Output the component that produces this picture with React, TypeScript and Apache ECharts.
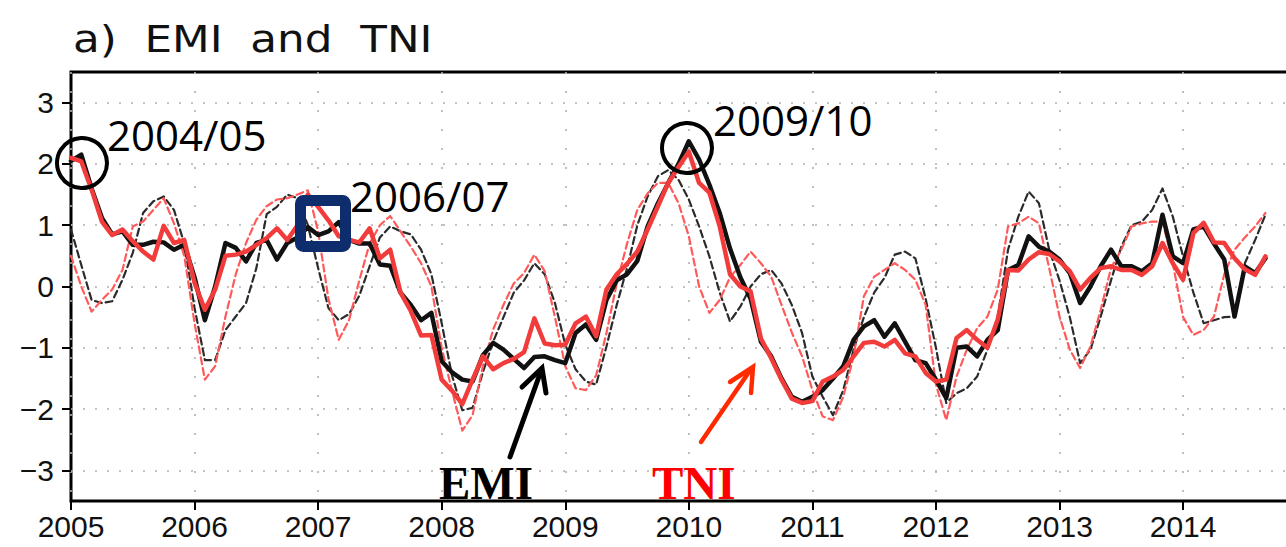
import { useEffect, useRef } from "react";
import * as echarts from "echarts";

// Monthly series, January 2005 onwards
const START_YEAR = 2005;
const X_MAX = 2014.93;
const yearTicks = [2005, 2006, 2007, 2008, 2009, 2010, 2011, 2012, 2013, 2014];
const valueTicks = [-3, -2, -1, 0, 1, 2, 3];

// EMI (thick black line)
const emi = [
  2.05, 2.15, 1.6, 1.12, 0.85, 0.9, 0.68, 0.68, 0.73, 0.72, 0.6, 0.68,
  0.15, -0.55, 0.0, 0.71, 0.63, 0.41, 0.71, 0.76, 0.44, 0.71, 0.8, 0.97,
  0.84, 0.9, 1.05, 0.76, 0.7, 0.7, 0.36, 0.34, -0.1, -0.3, -0.55, -0.43,
  -1.22, -1.4, -1.52, -1.55, -1.12, -0.92, -1.03, -1.18, -1.33, -1.15, -1.14, -1.2,
  -1.25, -0.76, -0.62, -0.87, -0.22, 0.1, 0.2, 0.42, 0.98, 1.36, 1.69, 2.0,
  2.37, 2.07, 1.66, 1.2, 0.62, 0.15, -0.2, -0.9, -1.14, -1.5, -1.8, -1.88,
  -1.8, -1.69, -1.5, -1.3, -0.87, -0.65, -0.55, -0.82, -0.6, -0.9, -1.2, -1.25,
  -1.52, -1.82, -1.0, -0.98, -1.14, -0.87, -0.71, 0.27, 0.35, 0.82, 0.65, 0.57,
  0.44, 0.22, -0.27, 0.0, 0.33, 0.6, 0.33, 0.33, 0.25, 0.38, 1.17, 0.49,
  0.38, 0.93, 0.98, 0.7, 0.44, -0.49, 0.33, 0.22, 0.46,
];

// TNI (thick red line)
const tni = [
  2.1, 2.04, 1.58, 1.06, 0.84, 0.93, 0.74, 0.57, 0.44, 0.99, 0.71, 0.76,
  0.06, -0.38, -0.05, 0.5, 0.52, 0.57, 0.68, 0.79, 0.95, 0.76, 1.0, 1.5,
  1.3, 1.08, 0.82, 0.76, 0.72, 0.95, 0.46, 0.6, -0.1, -0.4, -0.8, -0.79,
  -1.52, -1.7, -1.92, -1.52, -1.14, -1.35, -1.25, -1.18, -1.07, -0.52, -0.93, -0.96,
  -0.95, -0.6, -0.49, -0.81, -0.05, 0.2, 0.37, 0.57, 0.93, 1.31, 1.69, 1.95,
  2.2, 1.69, 1.53, 0.98, 0.2, 0.0, -0.08, -0.85, -1.17, -1.52, -1.83, -1.9,
  -1.87, -1.55, -1.47, -1.36, -1.14, -0.92, -0.9, -0.98, -0.87, -1.09, -1.14, -1.41,
  -1.55, -1.52, -0.84, -0.71, -0.87, -1.0, -0.54, 0.27, 0.26, 0.44, 0.56, 0.53,
  0.41, 0.25, -0.05, 0.14, 0.3, 0.33, 0.27, 0.27, 0.19, 0.33, 0.71, 0.38,
  0.11, 0.87, 1.04, 0.72, 0.71, 0.46, 0.28, 0.19, 0.49,
];

// Thin dashed black line
const emiDashed = [
  0.93, 0.35, -0.22, -0.27, -0.24, 0.11, 0.55, 1.2, 1.39, 1.47, 1.25, 0.7,
  -0.35, -1.2, -1.2, -0.71, -0.49, -0.27, 0.3, 1.18, 1.3, 1.5, 1.44, 1.0,
  0.3, -0.35, -0.55, -0.45, -0.15, 0.33, 0.8, 0.98, 0.9, 0.85, 0.6, 0.2,
  -0.6, -1.45, -2.02, -1.98, -1.4, -0.9, -0.5, -0.1, 0.1, 0.38, 0.2, -0.27,
  -0.95, -1.35, -1.55, -1.6, -0.98, -0.3, 0.3, 1.0, 1.47, 1.8, 1.9, 1.74,
  1.42, 0.98, 0.49, -0.1, -0.57, -0.33, 0.0, 0.2, 0.27, 0.05, -0.3, -0.76,
  -1.47, -1.8, -2.1, -1.69, -1.03, -0.5, -0.1, 0.14, 0.52, 0.57, 0.46, -0.2,
  -1.0, -1.9, -1.74, -1.66, -1.47, -1.03, -0.49, 0.6, 1.14, 1.55, 1.36, 0.6,
  0.1, -0.5, -1.25, -1.03, -0.49, 0.1, 0.65, 1.0, 1.06, 1.25, 1.6, 1.14,
  0.49, -0.1, -0.6, -0.55, -0.5, -0.49, 0.38, 0.76, 1.17,
];

// Thin dashed red line
const tniDashed = [
  0.5, 0.0, -0.41, -0.22, -0.05, 0.27, 0.98, 1.06, 1.25, 1.44, 1.03, 0.5,
  -0.6, -1.52, -1.3, -0.49, 0.2, 0.71, 1.09, 1.31, 1.42, 1.44, 1.5, 1.57,
  0.9, -0.2, -0.87, -0.55, 0.1, 0.7, 1.0, 1.15, 0.9, 0.65, 0.38, 0.0,
  -1.0, -1.7, -2.35, -2.1, -1.3, -0.7, -0.3, 0.05, 0.22, 0.52, 0.25, -0.5,
  -1.3, -1.66, -1.69, -1.45, -0.76, 0.05, 0.7, 1.25, 1.52, 1.69, 1.69, 1.36,
  0.82, 0.0, -0.43, -0.22, 0.15, 0.35, 0.57, 0.38, 0.16, -0.3, -0.75, -1.14,
  -1.69, -2.12, -2.18, -1.8, -1.14, -0.16, 0.16, 0.27, 0.38, 0.27, 0.11, -0.3,
  -1.6, -2.18, -1.47, -1.03, -0.68, -0.49, -0.05, 0.98, 1.03, 1.14, 1.03, 0.3,
  -0.49, -1.03, -1.33, -0.98, -0.38, 0.3, 0.6, 0.98, 1.03, 1.06, 1.06, 0.38,
  -0.5, -0.79, -0.71, -0.49, 0.2, 0.6, 0.8, 0.98, 1.2,
];

const toPairs = (vals: number[]) => vals.map((v, i) => [START_YEAR + i / 12, v]);

const fmtValue = (v: number) => {
  if (!Number.isInteger(v)) return "";
  return v < 0 ? "\u2212" + Math.abs(v) : String(v);
};
const fmtYear = (v: number) => (Number.isInteger(v) ? String(v) : "");

const lineSeries = (vals: number[], color: string, width: number, dashed: boolean, z: number) => ({
  type: "line",
  data: toPairs(vals),
  symbol: "none",
  z,
  lineStyle: {
    color,
    width,
    type: dashed ? [7, 4] : "solid",
    join: "round",
    cap: "round",
  },
});

export default function App() {
  const ref = useRef<HTMLDivElement>(null);

  useEffect(() => {
    document.body.style.margin = "0";
    const chart = echarts.init(ref.current!, null, { renderer: "svg" });
    const annoFont = '42px "Open Sans"';
    chart.setOption({
      animation: false,
      backgroundColor: "#ffffff",
      grid: {
        show: true,
        left: 71,
        top: 72,
        right: -12,
        bottom: 46,
        borderColor: "#000000",
        borderWidth: 3,
        backgroundColor: "transparent",
        outerBoundsMode: "none",
      },
      xAxis: {
        type: "value",
        position: "bottom",
        min: START_YEAR,
        max: X_MAX,
        interval: 1,
        axisLine: { show: false, onZero: false },
        axisTick: {
          show: true,
          length: 9,
          customValues: yearTicks,
          lineStyle: { color: "#000", width: 2 },
        },
        axisLabel: {
          show: true,
          customValues: yearTicks,
          margin: 10,
          fontSize: 30,
          fontFamily: "Liberation Sans",
          color: "#111",
          formatter: fmtYear,
        },
        splitLine: {
          show: true,
          lineStyle: { color: "#b0b0b0", width: 1.6, type: [2, 17] },
        },
      },
      yAxis: {
        type: "value",
        position: "left",
        min: -3.5,
        max: 3.5,
        splitNumber: 7,
        minInterval: 1,
        maxInterval: 1,
        axisLine: { show: false, onZero: false },
        axisTick: {
          show: true,
          length: 9,
          customValues: valueTicks,
          lineStyle: { color: "#000", width: 2 },
        },
        axisLabel: {
          show: true,
          customValues: valueTicks,
          margin: 17,
          fontSize: 30,
          fontFamily: "Liberation Sans",
          color: "#111",
          formatter: fmtValue,
        },
        splitLine: {
          show: true,
          lineStyle: { color: "#b0b0b0", width: 1.6, type: [2, 10] },
        },
      },
      series: [
        lineSeries(emiDashed, "#2b2b2b", 2.2, true, 2),
        lineSeries(tniDashed, "#ff5a5a", 2.2, true, 3),
        lineSeries(emi, "#111111", 4.5, false, 4),
        lineSeries(tni, "#f23b3b", 4.5, false, 5),
      ],
      graphic: [
        {
          type: "text",
          x: 73,
          y: 39,
          scaleX: 1.18,
          z: 100,
          style: {
            text: "a)  EMI  and  TNI",
            font: '37px "DejaVu Sans"',
            fill: "#111",
            align: "left",
            verticalAlign: "middle",
          },
        },
        {
          type: "circle",
          z: 100,
          shape: { cx: 82, cy: 163, r: 25 },
          style: { fill: "none", stroke: "#000", lineWidth: 4 },
        },
        {
          type: "circle",
          z: 100,
          shape: { cx: 687, cy: 148, r: 25 },
          style: { fill: "none", stroke: "#000", lineWidth: 4 },
        },
        {
          type: "rect",
          z: 100,
          shape: { x: 300.5, y: 200.5, width: 45, height: 46, r: 3 },
          style: { fill: "none", stroke: "#0d2d6c", lineWidth: 11 },
        },
        {
          type: "text",
          x: 107,
          y: 134,
          z: 100,
          style: { text: "2004/05", font: annoFont, fill: "#000", align: "left", verticalAlign: "middle" },
        },
        {
          type: "text",
          x: 350,
          y: 195,
          z: 100,
          style: { text: "2006/07", font: annoFont, fill: "#000", align: "left", verticalAlign: "middle" },
        },
        {
          type: "text",
          x: 713,
          y: 119,
          z: 100,
          style: { text: "2009/10", font: annoFont, fill: "#000", align: "left", verticalAlign: "middle" },
        },
        // EMI arrow
        {
          type: "line",
          z: 100,
          shape: { x1: 510, y1: 457, x2: 541, y2: 371 },
          style: { stroke: "#000", lineWidth: 5, lineCap: "round" },
        },
        {
          type: "polyline",
          z: 100,
          shape: { points: [[522, 387], [542, 368], [546, 393]] },
          style: { stroke: "#000", lineWidth: 5, fill: "none", lineJoin: "miter", lineCap: "round" },
        },
        // TNI arrow
        {
          type: "line",
          z: 100,
          shape: { x1: 701, y1: 442, x2: 751, y2: 369 },
          style: { stroke: "#ff2a00", lineWidth: 4.5, lineCap: "round" },
        },
        {
          type: "polyline",
          z: 100,
          shape: { points: [[730, 382], [753, 367], [751, 393]] },
          style: { stroke: "#ff2a00", lineWidth: 4.5, fill: "none", lineJoin: "miter", lineCap: "round" },
        },
        {
          type: "text",
          x: 439,
          y: 483,
          z: 100,
          style: {
            text: "EMI",
            font: 'bold 47px "Liberation Serif"',
            fill: "#000",
            align: "left",
            verticalAlign: "middle",
          },
        },
        {
          type: "text",
          x: 652,
          y: 483,
          z: 100,
          style: {
            text: "TNI",
            font: 'bold 47px "Liberation Serif"',
            fill: "#ff0000",
            align: "left",
            verticalAlign: "middle",
          },
        },
      ],
    });
    return () => chart.dispose();
  }, []);

  return <div ref={ref} style={{ width: 1286, height: 547 }} />;
}
